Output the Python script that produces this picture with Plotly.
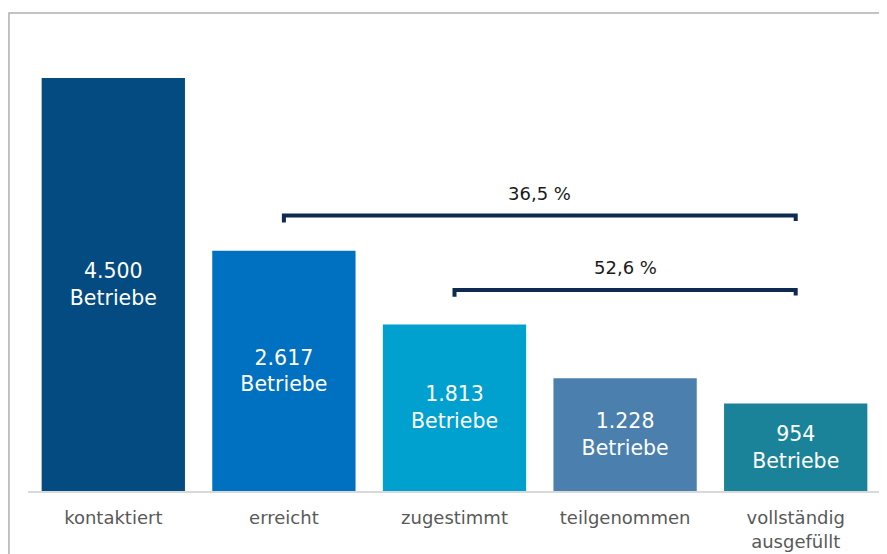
import plotly.graph_objects as go

categories = ["kontaktiert", "erreicht", "zugestimmt", "teilgenommen", "vollständig<br>ausgefüllt"]
values = [4500, 2617, 1813, 1228, 954]
value_labels = ["4.500", "2.617", "1.813", "1.228", "954"]
colors = ["#034B80", "#0070C0", "#00A0CF", "#4A7FAE", "#1B8399"]

# brackets: (from category index, to category index, level in data units, label)
bracket_from = [1, 2]
bracket_to = [4, 4]
bracket_level = [3000, 2190]
bracket_labels = ["36,5 %", "52,6 %"]

x_idx = list(range(len(categories)))

fig = go.Figure()
fig.add_trace(go.Bar(
    x=x_idx, y=values,
    marker=dict(color=colors, line=dict(width=0)),
    text=[f"{v}<br>Betriebe" for v in value_labels],
    textposition="inside", insidetextanchor="middle",
    textangle=0, constraintext="none",
    textfont=dict(family="DejaVu Sans", size=20.5, color="white"),
    hoverinfo="skip",
))

shapes = []
annotations = []
hook = 75
for f, t, lvl, lab in zip(bracket_from, bracket_to, bracket_level, bracket_labels):
    shapes.append(dict(
        type="path", xref="x", yref="y",
        path=f"M {f},{lvl - hook} L {f},{lvl} L {t},{lvl} L {t},{lvl - hook*0.8}",
        line=dict(color="#0E2A50", width=4),
    ))
    annotations.append(dict(
        x=(f + t) / 2, y=lvl, xref="x", yref="y", yshift=22,
        text=lab, showarrow=False, yanchor="middle",
        font=dict(family="DejaVu Sans", size=18, color="#1a1a1a"),
    ))

# outer frame
shapes.append(dict(
    type="rect", xref="paper", yref="paper",
    x0=-0.0223, x1=1.2, y0=-0.3, y1=1.0414,
    line=dict(color="#B0B0B0", width=1.5), layer="below",
))

fig.update_layout(
    width=879, height=546,
    margin=dict(l=20, r=6, t=24, b=63, autoexpand=False),
    paper_bgcolor="white", plot_bgcolor="white",
    bargap=0.16, showlegend=False,
    shapes=shapes, annotations=annotations,
    xaxis=dict(
        tickmode="array", tickvals=x_idx, ticktext=categories,
        range=[-0.5, 4.5], showgrid=False, zeroline=False,
        showline=True, linecolor="#D9D9D9", linewidth=1.5,
        ticks="", ticklabelstandoff=10, automargin=False,
        tickfont=dict(family="DejaVu Sans", size=18, color="#595959"),
    ),
    yaxis=dict(range=[0, 5000], visible=False, showgrid=False, zeroline=False),
)

fig.write_html("out.html")
